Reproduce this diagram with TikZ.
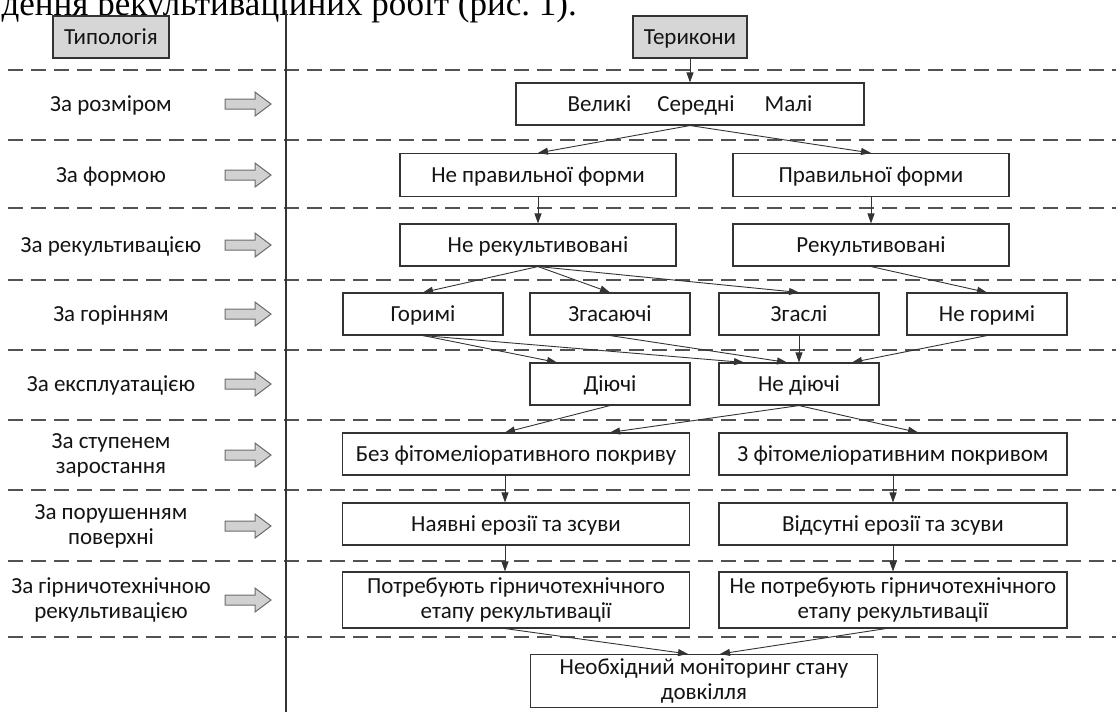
\documentclass[tikz,border=0pt]{standalone}
\usepackage{fontspec}
\setmainfont{Carlito}
\newfontfamily\pageserif{Liberation Serif}
\usetikzlibrary{arrows.meta,calc}
\definecolor{linec}{gray}{0.2}
\definecolor{sepc}{gray}{0.32}
\definecolor{hdrfill}{gray}{0.84}
\definecolor{textc}{gray}{0.08}
\definecolor{barfill}{gray}{0.82}
\definecolor{bardraw}{gray}{0.42}
\begin{document}
\begin{tikzpicture}[x=1pt,y=-1pt,
  box/.style={draw=linec, line width=1.1pt, fill=white, minimum height=42pt, inner sep=0pt, text=textc, font=\fontsize{23}{25}\selectfont, align=center},
  one/.style={text height=15pt, text depth=0.5pt},
  hdr/.style={box, one, fill=hdrfill},
  lbl/.style={text=textc, font=\fontsize{23}{25}\selectfont, align=center, inner sep=0pt},
  conn/.style={draw=linec, line width=0.9pt, -{Triangle[length=10pt,width=7pt]}},
  sep/.style={draw=sepc, line width=1.2pt, dash pattern=on 15pt off 8pt},
  blockarr/.pic={\draw[draw=bardraw, fill=barfill, line width=1pt]
     (-23,-5) -- (7,-5) -- (7,-12) -- (23,0) -- (7,12) -- (7,5) -- (-23,5) -- cycle;}
]
\useasboundingbox (0,0) rectangle (1116,718);

% page text at the top, cut by the page edge as in the scan
\node[anchor=base east, inner sep=0pt, font=\pageserif\fontsize{35}{37}\selectfont] (cap) at (577,15) {дення рекультиваційних робіт (рис.~1).};

% separators
\foreach \yy in {70,140,208,280,350,420,490,561,637}
  \draw[sep] (8,\yy) -- (1116,\yy);
\draw[draw=linec, line width=1.1pt] (286,10) -- (286,712);

% header
\node[hdr, minimum width=116pt] (typ) at (111,37) {Типологія};
\node[hdr, minimum width=114pt] (ter) at (690,37) {Терикони};

% left labels and block arrows
\node[lbl, one] (l1) at (111,104) {За розміром};
\node[lbl, one] (l2) at (111,175) {За формою};
\node[lbl, one] (l3) at (111,245) {За рекультивацією};
\node[lbl, one] (l4) at (111,314) {За горінням};
\node[lbl, one] (l5) at (111,384) {За експлуатацією};
\node[lbl] (l6) at (111,455) {За ступенем\\заростання};
\node[lbl] (l7) at (111,526) {За порушенням\\поверхні};
\node[lbl] (l8) at (111,600) {За гірничотехнічною\\рекультивацією};
\foreach \yy/\nm in {104/a1,175/a2,245/a3,314/a4,384/a5,455/a6,526/a7,600/a8}
  \pic (\nm) at (248,\yy) {blockarr};

% right side boxes
\node[box, one, minimum width=348pt] (size) at (690,104) {Великі\hspace{26pt}Середні\hspace{30pt}Малі};
\node[box, one, minimum width=276pt, minimum height=43pt] (nepr) at (538,175) {Не правильної форми};
\node[box, one, minimum width=276pt, minimum height=43pt] (pr) at (871,175) {Правильної форми};
\node[box, one, minimum width=276pt] (nerek) at (538,245) {Не рекультивовані};
\node[box, one, minimum width=276pt] (rek) at (871,245) {Рекультивовані};
\node[box, one, minimum width=160pt] (gor) at (423,314) {Горимі};
\node[box, one, minimum width=160pt] (zgas) at (610,314) {Згасаючі};
\node[box, one, minimum width=160pt] (zgasl) at (799,314) {Згаслі};
\node[box, one, minimum width=160pt] (negor) at (987,314) {Не горимі};
\node[box, one, minimum width=160pt] (diy) at (610,384) {Діючі};
\node[box, one, minimum width=160pt] (nediy) at (799,384) {Не діючі};
\node[box, one, minimum width=347pt] (bezf) at (516,454) {Без фітомеліоративного покриву};
\node[box, one, minimum width=348pt] (zf) at (893,454) {З фітомеліоративним покривом};
\node[box, one, minimum width=347pt] (nayav) at (516,524) {Наявні ерозії та зсуви};
\node[box, one, minimum width=348pt] (vids) at (893,524) {Відсутні ерозії та зсуви};
\node[box, minimum width=347pt, minimum height=56pt] (potr) at (516,600) {Потребують гірничотехнічного\\етапу рекультивації};
\node[box, minimum width=348pt, minimum height=56pt] (nepotr) at (893,600) {Не потребують гірничотехнічного\\етапу рекультивації};
\node[box, minimum width=347pt, minimum height=53pt] (monit) at (704,681) {Необхідний моніторинг стану\\довкілля};

% connectors
\draw[conn] (ter.south) -- (size.north);
\draw[conn] (size.south) -- (nepr.north);
\draw[conn] (size.south) -- (pr.north);
\draw[conn] (nepr.south) -- (nerek.north);
\draw[conn] (pr.south) -- (rek.north);
\draw[conn] (nerek.south) -- (gor.north);
\draw[conn] (nerek.south) -- (zgas.north);
\draw[conn] (nerek.south) -- (zgasl.north);
\draw[conn] (rek.south) -- (negor.north);
\draw[conn] (gor.south) -- ([xshift=-53pt]diy.north);
\draw[conn] (gor.south) -- ([xshift=-55pt]nediy.north);
\draw[conn] (zgas.south) -- ([xshift=-12pt]nediy.north);
\draw[conn] (zgasl.south) -- (nediy.north);
\draw[conn] (negor.south) -- ([xshift=53pt]nediy.north);
\draw[conn] (diy.south) -- ([xshift=-11pt]bezf.north);
\draw[conn] (nediy.south) -- ([xshift=94pt]bezf.north);
\draw[conn] (nediy.south) -- ([xshift=25pt]zf.north);
\draw[conn] ([xshift=-11pt]bezf.south) -- ([xshift=-11pt]nayav.north);
\draw[conn] (zf.south) -- (vids.north);
\draw[conn] ([xshift=-11pt]nayav.south) -- ([xshift=-11pt]potr.north);
\draw[conn] (vids.south) -- (nepotr.north);
\draw[conn] ([xshift=-11pt]potr.south) -- ([xshift=-16pt]monit.north);
\draw[conn] ([xshift=-7pt]nepotr.south) -- ([xshift=16pt]monit.north);
\end{tikzpicture}
\end{document}
